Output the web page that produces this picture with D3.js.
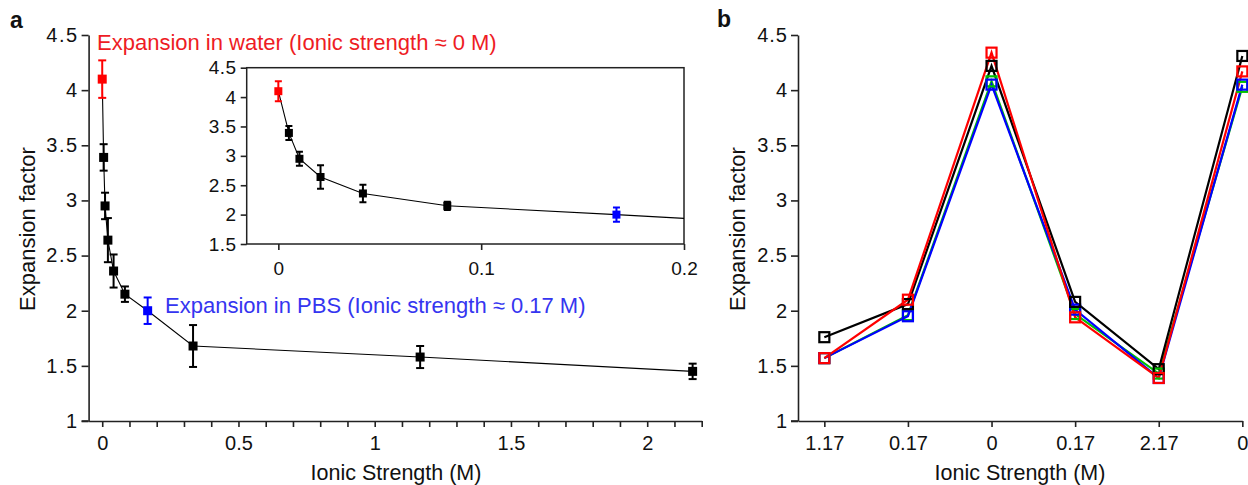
<!DOCTYPE html>
<html><head><meta charset="utf-8">
<script src="https://cdn.jsdelivr.net/npm/d3@7"></script>
<style>
body{margin:0;background:#fff;}
svg{display:block;font-family:"Liberation Sans",Arial,sans-serif;}
.axis path,.axis line{stroke:#222;stroke-width:1.6px;}
.axis text{fill:#111;}
</style></head>
<body><svg id="c" width="1248" height="485"></svg>
<script>
// ---------- Panel a data ----------
const ionicStrength = [0, 0.0052, 0.0104, 0.0208, 0.0417, 0.0833, 0.1667, 0.3333, 1.1667, 2.1667];
const expansionFactor = [4.10, 3.39, 2.95, 2.64, 2.36, 2.15, 2.00, 1.68, 1.58, 1.45];
const expansionError = [0.17, 0.12, 0.12, 0.20, 0.15, 0.07, 0.12, 0.19, 0.10, 0.07];
const mainXTicks = [0, 0.5, 1, 1.5, 2];
const yTicks = [1, 1.5, 2, 2.5, 3, 3.5, 4, 4.5];
const insetXTicks = [0, 0.1, 0.2];
const insetYTicks = [1.5, 2, 2.5, 3, 3.5, 4, 4.5];
const waterLabel = "Expansion in water (Ionic strength \u2248 0 M)";
const pbsLabel = "Expansion in PBS (Ionic strength \u2248 0.17 M)";

// ---------- Panel b data ----------
const cycleLabels = ["1.17", "0.17", "0", "0.17", "2.17", "0"];
const seriesGreen = [1.57, 1.96, 4.08, 1.97, 1.43, 4.03];
const seriesBlue  = [1.57, 1.95, 4.05, 2.01, 1.39, 4.05];
const seriesBlack = [1.76, 2.06, 4.22, 2.08, 1.47, 4.31];
const seriesRed   = [1.57, 2.10, 4.34, 1.94, 1.39, 4.17];

const svg = d3.select("#c");
const RED = "#ff0000", BLUE = "#0000ff", TXT_RED = "#ee1c24", TXT_BLUE = "#3535f0";
function pointColor(i){ return i === 0 ? RED : (i === 6 ? BLUE : "#000"); }

function styleAxis(g, fs, ls){
  g.attr("class","axis");
  g.selectAll("text").style("font-size", fs + "px").style("letter-spacing", (ls||0) + "px");
}

// ================= Panel a main =================
const ax = d3.scaleLinear().domain([-0.05, 2.2]).range([88.6, 701.7]);
const ay = d3.scaleLinear().domain([1, 4.5]).range([421, 35]);

svg.append("text").text("a").attr("x", 10).attr("y", 28)
  .style("font-size","23px").style("font-weight","bold").attr("fill","#111");

const gA = svg.append("g");
gA.append("g").attr("transform","translate(0,421)")
  .call(d3.axisBottom(ax).tickValues(d3.range(0, 2.21, 0.1)).tickSize(6).tickSizeOuter(0)
    .tickFormat(d => mainXTicks.some(t => Math.abs(t - d) < 1e-6) ? d3.format("~g")(Math.round(d*10)/10) : ""))
  .call(g => styleAxis(g, 20))
  .call(g => g.selectAll("text").attr("dy","1.0em"));
gA.append("g").attr("transform","translate(88.6,0)")
  .call(d3.axisLeft(ay).tickValues(yTicks).tickSize(7).tickPadding(3).tickSizeOuter(0).tickFormat(d3.format("~g")))
  .call(g => styleAxis(g, 20, 1.5));
gA.append("line").attr("x1",81.6).attr("x2",88.6).attr("y1",421).attr("y2",421).attr("stroke","#222").attr("stroke-width",1.6);

const lineA = d3.line().x((d,i)=>ax(ionicStrength[i])).y(d=>ay(d));
gA.append("path").datum(expansionFactor).attr("d", lineA).attr("fill","none").attr("stroke","#000").attr("stroke-width",1.1);

function drawPoints(g, xs, ys, errs, sx, sy, ms, cap){
  const pts = g.append("g");
  ys.forEach((v,i)=>{
    const x = sx(xs[i]), c = pointColor(i);
    pts.append("line").attr("x1",x).attr("x2",x).attr("y1",sy(v+errs[i])).attr("y2",sy(v-errs[i])).attr("stroke",c).attr("stroke-width",2);
    [v+errs[i], v-errs[i]].forEach(e=>{
      pts.append("line").attr("x1",x-cap/2).attr("x2",x+cap/2).attr("y1",sy(e)).attr("y2",sy(e)).attr("stroke",c).attr("stroke-width",2);
    });
    pts.append("rect").attr("x",x-ms/2).attr("y",sy(v)-ms/2).attr("width",ms).attr("height",ms).attr("fill",c);
  });
}
drawPoints(gA, ionicStrength, expansionFactor, expansionError, ax, ay, 9, 8);

svg.append("text").text(waterLabel).attr("x",97).attr("y",50).attr("fill",TXT_RED).style("font-size","22px");
svg.append("text").text(pbsLabel).attr("x",165).attr("y",313).attr("fill",TXT_BLUE).style("font-size","22px");

svg.append("text").text("Ionic Strength (M)").attr("x",396).attr("y",480).attr("text-anchor","middle")
  .style("font-size","21.5px").attr("fill","#111");
svg.append("text").text("Expansion factor").attr("transform","translate(35,229) rotate(-90)").attr("text-anchor","middle")
  .style("font-size","22px").attr("fill","#111");

// ================= Inset =================
const ix = d3.scaleLinear().domain([-0.0156, 0.2]).range([246.7, 684]);
const iy = d3.scaleLinear().domain([1.5, 4.5]).range([244, 67.7]);
const gI = svg.append("g");
gI.append("rect").attr("x",246.7).attr("y",67.7).attr("width",684-246.7).attr("height",244-67.7)
  .attr("fill","#fff").attr("stroke","#222").attr("stroke-width",1.5);
gI.append("g").attr("transform","translate(0,244)")
  .call(d3.axisBottom(ix).tickValues(insetXTicks).tickSize(6).tickSizeOuter(0).tickFormat(d3.format("~g")))
  .call(g => styleAxis(g, 19)).call(g=>g.select(".domain").remove())
  .call(g => g.selectAll("text").attr("dy","1.15em"));
gI.append("g").attr("transform","translate(246.7,0)")
  .call(d3.axisLeft(iy).tickValues(insetYTicks).tickSize(6).tickPadding(4).tickSizeOuter(0).tickFormat(d3.format("~g")))
  .call(g => styleAxis(g, 19, 0.5)).call(g=>g.select(".domain").remove());
svg.append("clipPath").attr("id","ic").append("rect").attr("x",246.7).attr("y",67.7).attr("width",684-246.7).attr("height",244-67.7);
const gIc = gI.append("g").attr("clip-path","url(#ic)");
gIc.append("path").datum(expansionFactor).attr("d", d3.line().x((d,i)=>ix(ionicStrength[i])).y(d=>iy(d)))
  .attr("fill","none").attr("stroke","#000").attr("stroke-width",1.1);
drawPoints(gIc, ionicStrength, expansionFactor, expansionError, ix, iy, 8, 7);

// ================= Panel b =================
const bx = d3.scaleLinear().domain([-0.315, 5.0]).range([798, 798 + 5.315*83.6]);
const by = d3.scaleLinear().domain([1, 4.5]).range([421, 35]);
svg.append("text").text("b").attr("x",717).attr("y",27)
  .style("font-size","23px").style("font-weight","bold").attr("fill","#111");
const gB = svg.append("g");
gB.append("g").attr("transform","translate(0,421)")
  .call(d3.axisBottom(bx).tickValues(d3.range(cycleLabels.length)).tickSize(6).tickSizeOuter(0).tickFormat(i=>cycleLabels[i]))
  .call(g => styleAxis(g, 20))
  .call(g => g.selectAll("text").attr("dy","1.0em"));
gB.append("g").attr("transform","translate(798,0)")
  .call(d3.axisLeft(by).tickValues(yTicks).tickSize(7).tickPadding(3).tickSizeOuter(0).tickFormat(d3.format("~g")))
  .call(g => styleAxis(g, 20, 1));
gB.append("line").attr("x1",791).attr("x2",798).attr("y1",421).attr("y2",421).attr("stroke","#222").attr("stroke-width",1.6);

const seriesB = [[seriesGreen,"#00c000"],[seriesBlue,BLUE],[seriesBlack,"#000"],[seriesRed,RED]];
seriesB.forEach(([vals,col])=>{
  gB.append("path").datum(vals).attr("d", d3.line().x((d,i)=>bx(i)).y(d=>by(d)))
    .attr("fill","none").attr("stroke",col).attr("stroke-width",2.2);
});
seriesB.forEach(([vals,col])=>{
  gB.append("g").selectAll("rect").data(vals).join("rect")
    .attr("x",(d,i)=>bx(i)-5).attr("y",d=>by(d)-5).attr("width",10).attr("height",10)
    .attr("fill","none").attr("stroke",col).attr("stroke-width",2.2);
});
svg.append("text").text("Ionic Strength (M)").attr("x",1020).attr("y",480).attr("text-anchor","middle")
  .style("font-size","21.5px").attr("fill","#111");
svg.append("text").text("Expansion factor").attr("transform","translate(745,229) rotate(-90)").attr("text-anchor","middle")
  .style("font-size","22px").attr("fill","#111");
</script></body></html>
